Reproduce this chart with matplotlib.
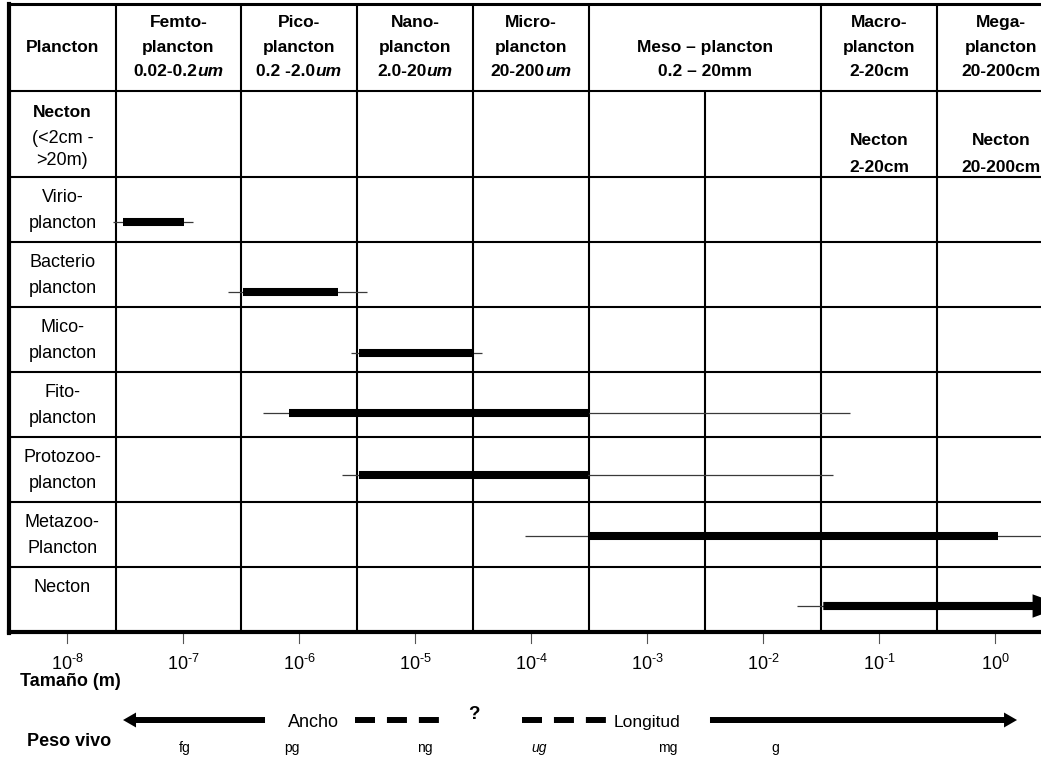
import matplotlib
matplotlib.use("Agg")
import matplotlib.pyplot as plt
from matplotlib.offsetbox import TextArea, HPacker, AnnotationBbox
from matplotlib.patches import FancyArrow

plt.rcParams["font.family"] = ["Liberation Sans", "DejaVu Sans"]
plt.rcParams["mathtext.fontset"] = "custom"
plt.rcParams["mathtext.rm"] = "Liberation Sans"
plt.rcParams["mathtext.it"] = "Liberation Sans:italic"
plt.rcParams["mathtext.bf"] = "Liberation Sans:bold"
plt.rcParams["lines.scale_dashes"] = False

# ---------------------------------------------------------------- data
# Size classes: header text and column edges (log10 of size in metres)
class_headers = [
    ["Femto-", "plancton", [("0.02-0.2", "normal"), ("um", "italic")]],
    ["Pico-", "plancton", [("0.2 -2.0", "normal"), ("um", "italic")]],
    ["Nano-", "plancton", [("2.0-20", "normal"), ("um", "italic")]],
    ["Micro-", "plancton", [("20-200", "normal"), ("um", "italic")]],
    [None, "Meso – plancton", "0.2 – 20mm"],
    ["Macro-", "plancton", "2-20cm"],
    ["Mega-", "plancton", "20-200cm"],
]
class_edges = [-7.58, -6.5, -5.5, -4.5, -3.5, -1.5, -0.5, 0.6]
meso_split = -2.5
necton_headers = [(-1.5, -0.5, "Necton", "2-20cm"), (-0.5, 0.6, "Necton", "20-200cm")]

# Organism groups and their size ranges (log10 m): full range and core range
groups = ["Virio-\nplancton", "Bacterio\nplancton", "Mico-\nplancton",
          "Fito-\nplancton", "Protozoo-\nplancton", "Metazoo-\nPlancton", "Necton"]
range_min = [-7.60, -6.61, -5.55, -6.31, -5.63, -4.05, -1.71]
core_min = [-7.52, -6.48, -5.48, -6.09, -5.48, -3.51, -1.48]
core_max = [-6.99, -5.66, -4.49, -3.50, -3.51, 0.03, 0.60]
range_max = [-6.91, -5.41, -4.42, -1.25, -1.40, 0.60, 0.60]

size_exponents = list(range(-8, 1))
weight_units = [("fg", "normal"), ("pg", "normal"), ("ng", "normal"),
                ("ug", "italic"), ("mg", "normal"), ("g", "normal")]

# ---------------------------------------------------------------- layout
W, H = 1041, 757
fig = plt.figure(figsize=(W / 100, H / 100), dpi=100)
ax = fig.add_axes([0, 0, 1, 1])
# x: log10(size) ; y: row units (one organism row = 1), downward
ax.set_xlim(-8.5776, 0.3966)
ax.set_ylim(8.9231, -2.7231)
ax.set_axis_off()

left_edge = -8.5
top_edge = -2.66
header_split = -1.323
bottom_edge = 7.0
n_rows = len(groups)

grid_kw = dict(color="black", lw=1.5, solid_capstyle="butt", zorder=2)
# horizontal lines
ax.plot([left_edge, 1.0], [header_split, header_split], **grid_kw)
for i in range(n_rows):
    ax.plot([left_edge, 1.0], [i, i], **grid_kw)
# vertical lines
for x in class_edges[:-1]:
    ax.plot([x, x], [top_edge, bottom_edge], **grid_kw)
ax.plot([meso_split, meso_split], [header_split, bottom_edge], **grid_kw)
# outer border
ax.plot([left_edge, left_edge], [top_edge, bottom_edge + 0.02], color="black", lw=3.0,
        solid_capstyle="projecting", zorder=3)
ax.plot([left_edge, 1.0], [top_edge, top_edge], color="black", lw=2.2, zorder=3)
ax.plot([left_edge, 1.0], [bottom_edge, bottom_edge], color="black", lw=3.0, zorder=3)

FS_HEAD = 12.5
FS_LAB = 13


def mixed_line(x, y, parts, size, weight):
    kids = [TextArea(t, textprops=dict(fontsize=size, fontweight=weight, fontstyle=st,
                                       family=["Liberation Sans"]))
            for t, st in parts]
    box = HPacker(children=kids, align="baseline", pad=0, sep=0)
    ab = AnnotationBbox(box, (x, y), xycoords="data", box_alignment=(0.5, 0.5),
                        frameon=False, pad=0, zorder=4)
    ax.add_artist(ab)


# header row
line_y = [-2.37, -1.99, -1.63]
label_x = (left_edge + class_edges[0]) / 2
ax.text(label_x, line_y[1], "Plancton", ha="center", va="center",
        fontsize=FS_HEAD, fontweight="bold")
for c, lines in enumerate(class_headers):
    cx = (class_edges[c] + class_edges[c + 1]) / 2
    for ly, item in zip(line_y, lines):
        if item is None:
            continue
        if isinstance(item, list):
            mixed_line(cx, ly, item, FS_HEAD, "bold")
        else:
            ax.text(cx, ly, item, ha="center", va="center", fontsize=FS_HEAD,
                    fontweight="bold")

# second header row (necton)
ax.text(label_x, -0.99, "Necton", ha="center", va="center", fontsize=FS_HEAD,
        fontweight="bold")
ax.text(label_x, -0.6, "(<2cm -", ha="center", va="center", fontsize=FS_LAB)
ax.text(label_x, -0.26, ">20m)", ha="center", va="center", fontsize=FS_LAB)
for x0, x1, t1, t2 in necton_headers:
    cx = (x0 + x1) / 2
    ax.text(cx, -0.56, t1, ha="center", va="center", fontsize=FS_HEAD, fontweight="bold")
    ax.text(cx, -0.15, t2, ha="center", va="center", fontsize=FS_HEAD, fontweight="bold")

# organism rows
bar_offset = [0.69, 0.77, 0.71, 0.63, 0.585, 0.52, 0.6]
for i, name in enumerate(groups):
    for k, part in enumerate(name.split("\n")):
        ax.text(label_x, i + 0.31 + 0.4 * k, part, ha="center", va="center",
                fontsize=FS_LAB)
    y = i + bar_offset[i]
    ax.plot([range_min[i], range_max[i]], [y, y], color="#3a3a3a", lw=0.9,
            solid_capstyle="butt", zorder=5)
    if i == n_rows - 1:
        head_len = 0.276
        ax.add_patch(FancyArrow(core_min[i], y, core_max[i] - core_min[i], 0,
                                width=0.125, head_width=0.36, head_length=head_len,
                                length_includes_head=True, color="black", lw=0,
                                zorder=6))
    else:
        ax.plot([core_min[i], core_max[i]], [y, y], color="black", lw=5.8,
                solid_capstyle="butt", zorder=6)

# size axis
for e in size_exponents:
    ax.plot([e, e], [7.03, 7.17], color="#555555", lw=0.8, zorder=2)
    exp = str(e).replace("-", r"\text{-}")
    ax.text(e, 7.585, r"$\mathregular{10^{%s}}$" % exp, ha="center", va="baseline",
            fontsize=13)
ax.text(-7.974, 7.754, "Tamaño (m)", ha="center", va="center", fontsize=13,
        fontweight="bold")

# width / length arrow row
ay = 8.354
ax.add_patch(FancyArrow(-6.293, ay, -7.517 + 6.293, 0, width=0.092, head_width=0.23,
                        head_length=0.112, length_includes_head=True, color="black",
                        lw=0))
ax.add_patch(FancyArrow(-2.457, ay, 0.19 + 2.457, 0, width=0.092, head_width=0.23,
                        head_length=0.112, length_includes_head=True, color="black",
                        lw=0))
dash_kw = dict(color="black", lw=4.3, ls=(0, (14.4, 8.6)), solid_capstyle="butt",
               dash_capstyle="butt")
ax.plot([-5.517, -4.793], [ay, ay], **dash_kw)
ax.plot([-4.078, -3.353], [ay, ay], **dash_kw)
ax.text(-5.879, ay + 0.04, "Ancho", ha="center", va="center", fontsize=13)
ax.text(-3.0, ay + 0.04, "Longitud", ha="center", va="center", fontsize=12.5)
ax.text(-4.49, 8.27, "?", ha="center", va="center", fontsize=13.5, fontweight="bold")

# live weight units
ax.text(-7.983, 8.692, "Peso vivo", ha="center", va="center", fontsize=13,
        fontweight="bold")
unit_x = [-6.983, -6.06, -4.914, -3.931, -2.819, -1.897]
for x, (u, st) in zip(unit_x, weight_units):
    ax.text(x, 8.785, u, ha="center", va="center", fontsize=10, fontstyle=st)

fig.savefig("out.png", dpi=100, facecolor="white")
